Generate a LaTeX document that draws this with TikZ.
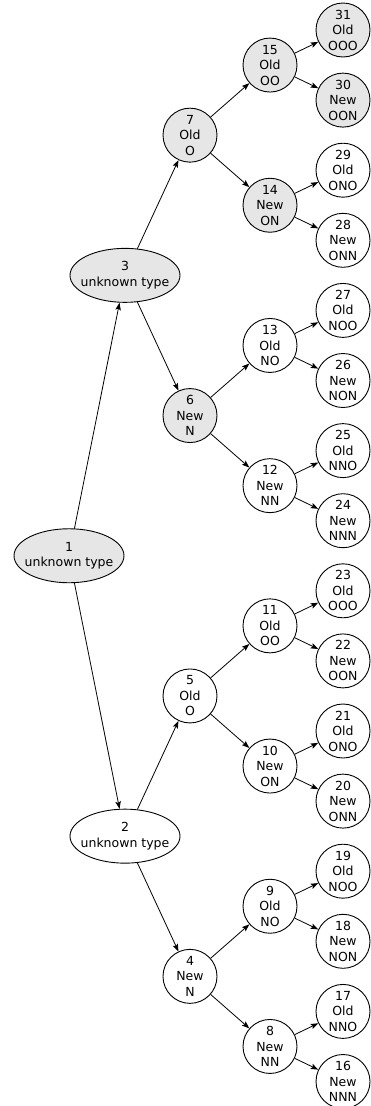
\documentclass[tikz,border=0pt]{standalone}
\usepackage{fontspec}
\setmainfont{DejaVu Sans}
\usetikzlibrary{shapes.geometric,arrows.meta}
\definecolor{nodegray}{HTML}{E6E6E6}
\tikzset{
  base/.style={draw=black, line width=0.9pt, inner sep=0pt, align=center,
    font=\fontsize{12.5}{15.5}\selectfont, text=black},
  ell/.style={base, ellipse, inner xsep=-12pt, inner ysep=-4pt, minimum width=110pt, minimum height=54pt},
  circ/.style={base, circle, minimum size=54pt},
  hl/.style={fill=nodegray},
  edge/.style={draw=black, line width=0.8pt, -{Stealth[length=7.5pt,width=5.5pt,inset=1.5pt]}}
}
\begin{document}
\begin{tikzpicture}[x=1pt,y=-1pt]
\useasboundingbox (0,0) rectangle (370,1106);
% root and level 1
\node[ell,hl] (n1) at (69,555.75) {1\\unknown type};
\node[ell,hl] (n3) at (125,275.35) {3\\unknown type};
\node[ell] (n2) at (125,836.15) {2\\unknown type};
% level 2
\node[circ,hl] (n7) at (190,135.15) {7\\Old\\O};
\node[circ,hl] (n6) at (190,415.55) {6\\New\\N};
\node[circ] (n5) at (190,695.95) {5\\Old\\O};
\node[circ] (n4) at (190,976.35) {4\\New\\N};
% level 3
\node[circ,hl] (n15) at (270,65.05) {15\\Old\\OO};
\node[circ,hl] (n14) at (270,205.25) {14\\New\\ON};
\node[circ] (n13) at (270,345.45) {13\\Old\\NO};
\node[circ] (n12) at (270,485.65) {12\\New\\NN};
\node[circ] (n11) at (270,625.85) {11\\Old\\OO};
\node[circ] (n10) at (270,766.05) {10\\New\\ON};
\node[circ] (n9) at (270,906.25) {9\\Old\\NO};
\node[circ] (n8) at (270,1046.45) {8\\New\\NN};
% leaves
\node[circ,hl] (n31) at (343,30) {31\\Old\\OOO};
\node[circ,hl] (n30) at (343,100.1) {30\\New\\OON};
\node[circ] (n29) at (343,170.2) {29\\Old\\ONO};
\node[circ] (n28) at (343,240.3) {28\\New\\ONN};
\node[circ] (n27) at (343,310.4) {27\\Old\\NOO};
\node[circ] (n26) at (343,380.5) {26\\New\\NON};
\node[circ] (n25) at (343,450.6) {25\\Old\\NNO};
\node[circ] (n24) at (343,520.7) {24\\New\\NNN};
\node[circ] (n23) at (343,590.8) {23\\Old\\OOO};
\node[circ] (n22) at (343,660.9) {22\\New\\OON};
\node[circ] (n21) at (343,731) {21\\Old\\ONO};
\node[circ] (n20) at (343,801.1) {20\\New\\ONN};
\node[circ] (n19) at (343,871.2) {19\\Old\\NOO};
\node[circ] (n18) at (343,941.3) {18\\New\\NON};
\node[circ] (n17) at (343,1011.4) {17\\Old\\NNO};
\node[circ] (n16) at (343,1081.5) {16\\New\\NNN};
% edges
\foreach \p/\c in {1/3,1/2,3/7,3/6,2/5,2/4,7/15,7/14,6/13,6/12,5/11,5/10,4/9,4/8,
  15/31,15/30,14/29,14/28,13/27,13/26,12/25,12/24,11/23,11/22,10/21,10/20,9/19,9/18,8/17,8/16}
  \draw[edge] (n\p) -- (n\c);
\end{tikzpicture}
\end{document}
